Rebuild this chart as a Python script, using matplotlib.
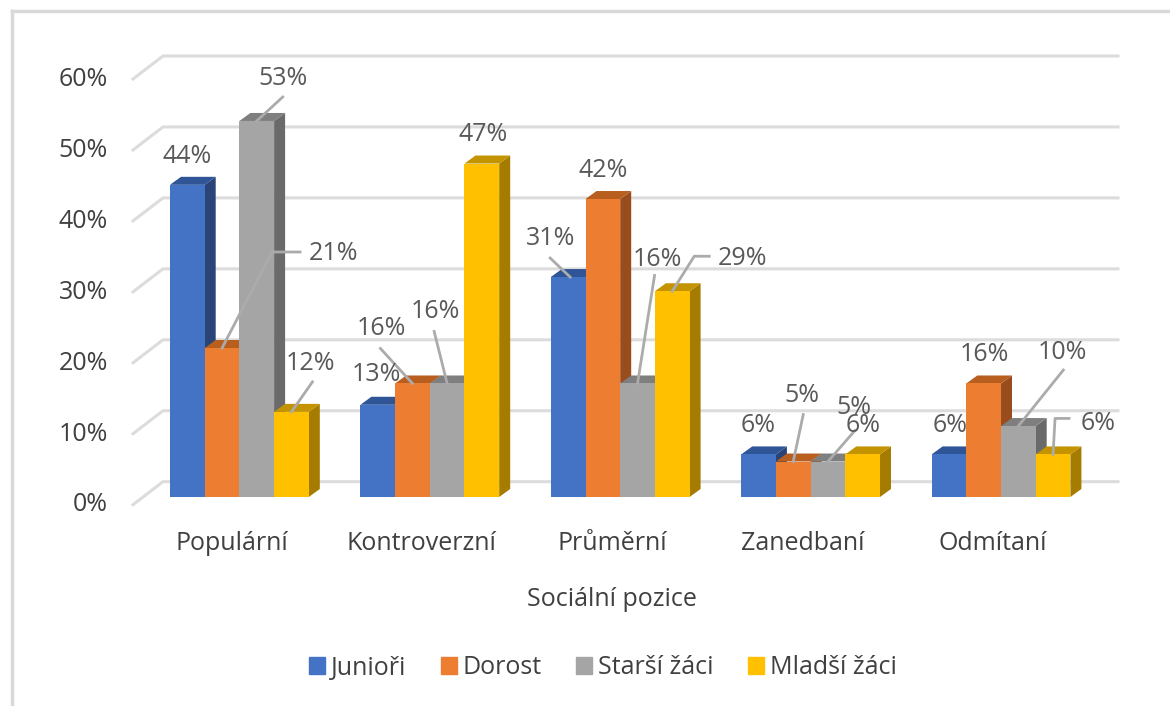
import matplotlib
matplotlib.use("Agg")
import matplotlib.pyplot as plt
from matplotlib.patches import Patch

plt.rcParams['font.family'] = ['Open Sans', 'DejaVu Sans']

kategorie = ["Populární", "Kontroverzní", "Průměrní", "Zanedbaní", "Odmítaní"]
serie = ["Junioři", "Dorost", "Starší žáci", "Mladší žáci"]
junio = [44, 13, 31, 6, 6]
dorost = [21, 16, 42, 5, 16]
starsi = [53, 16, 16, 5, 10]
mladsi = [12, 47, 29, 6, 6]
hodnoty = [junio, dorost, starsi, mladsi]
osa_y = [0, 10, 20, 30, 40, 50, 60]

barvy = ["#4472C4", "#ED7D31", "#A5A5A5", "#FFC000"]
barvy_vrch = ["#2F5597", "#B85F20", "#7F7F7F", "#C49300"]
barvy_bok = ["#2A4478", "#9A4D1C", "#6A6A6A", "#A67C00"]

W, H = 1170, 706
KROK = 190.4   # pixels between groups
PX = 7.095     # pixels per one percent
X0 = 239.4     # pixel x of the first group
Y0 = 497       # pixel y of the floor
SIRKA = 34.7 / KROK
HL_X, HL_Y = 11 / KROK, 8 / PX   # bar depth
VELIKOST = 18

# label shift and leader line from the top of the bar, in pixels (right, up)
popisky = {
    (0, 0): ((0, 28), None),
    (0, 1): ((111, 95), [(0, 0), (50, 96), (78, 96)]),
    (0, 2): ((26, 42), [(0, 0), (26, 24)]),
    (0, 3): ((19, 48), [(0, 0), (21, 30)]),
    (1, 0): ((-1, 30), None),
    (1, 1): ((-31, 55), [(0, 0), (-32, 35)]),
    (1, 2): ((-12, 72), [(0, 0), (-13, 52)]),
    (1, 3): ((1, 29), None),
    (2, 0): ((-18, 39), [(2, 0), (-18, 19)]),
    (2, 1): ((0, 29), None),
    (2, 2): ((20, 124), [(0, 0), (17, 108)]),
    (2, 3): ((70, 33), [(0, 0), (22, 35), (37, 35)]),
    (3, 0): ((0, 29), None),
    (3, 1): ((9, 66), [(0, 0), (10, 47)]),
    (3, 2): ((26, 54), [(0, 0), (27, 31)]),
    (3, 3): ((0, 29), None),
    (4, 0): ((1, 29), None),
    (4, 1): ((1, 29), None),
    (4, 2): ((44, 74), [(0, 0), (45, 56)]),
    (4, 3): ((45, 31), [(0, 0), (2, 36), (16, 36)]),
}

fig = plt.figure(figsize=(W / 100, H / 100), dpi=100)
ax = fig.add_axes([0, 0, 1, 1])
ax.set_xlim(-X0 / KROK, (W - X0) / KROK)
ax.set_ylim((Y0 - H) / PX, Y0 / PX)
ax.axis("off")


def posun(x, y, px, py):
    return x + px / KROK, y + py / PX


# grid on the back wall
for v in osa_y:
    x1, y1 = posun(0, v, 163 - X0, Y0 - 481.7)
    x2, y2 = posun(0, v, 1118 - X0, Y0 - 481.7)
    x3, y3 = posun(0, v, 133 - X0, Y0 - 504.7)
    ax.plot([x3, x1, x2], [y3, y1, y2], color="#DCDCDC", lw=2.2, zorder=1, solid_joinstyle="miter")
    tx, ty = posun(0, v, 108 - X0, Y0 - 505)
    ax.text(tx, ty, f"{v}%", ha="right", va="center", fontsize=VELIKOST, color="#404040")

# bars, left to right so the next front covers the previous side
z = 2
for g in range(len(kategorie)):
    for s in range(len(serie)):
        v = hodnoty[s][g]
        x = g + (s - 1.5) * SIRKA
        l, r = x - SIRKA / 2, x + SIRKA / 2
        ax.fill([r, r + HL_X, r + HL_X, r], [0, HL_Y, v + HL_Y, v], color=barvy_bok[s], lw=0, zorder=z)
        ax.fill([l, l + HL_X, r + HL_X, r], [v, v + HL_Y, v + HL_Y, v], color=barvy_vrch[s], lw=0, zorder=z)
        ax.bar(x, v, SIRKA, color=barvy[s], lw=0, zorder=z + 0.5)
        z += 1

# data labels with leader lines
for (g, s), (posuv, cara) in popisky.items():
    v = hodnoty[s][g]
    x = g + (s - 1.5) * SIRKA
    if cara:
        body = [posun(x, v, *b) for b in cara]
        ax.plot([b[0] for b in body], [b[1] for b in body], color="#ABABAB", lw=2, zorder=100)
    tx, ty = posun(x, v, *posuv)
    ax.text(tx, ty, f"{v}%", ha="center", va="center", fontsize=VELIKOST, color="#595959", zorder=101)

for g, k in enumerate(kategorie):
    tx, ty = posun(g, 0, -8, Y0 - 543)
    ax.text(tx, ty, k, ha="center", va="center", fontsize=VELIKOST, color="#404040")

tx, ty = posun(0, 0, 612 - X0, Y0 - 600)
ax.text(tx, ty, "Sociální pozice", ha="center", va="center", fontsize=VELIKOST, color="#404040")

znacky = [Patch(color=b, label=n) for b, n in zip(barvy, serie)]
ax.legend(handles=znacky, ncol=4, loc="center", bbox_to_anchor=(603 / W, 1 - 668 / H),
          frameon=False, fontsize=VELIKOST, labelcolor="#404040", handlelength=0.64, handleheight=0.64,
          handletextpad=0.25, columnspacing=1.36)

# outer frame of the picture
ax.plot(posun(0, 0, 12 - X0, Y0 - 706)[0:1] * 2, [posun(0, 0, 0, Y0 - 706)[1], posun(0, 0, 0, Y0 - 11)[1]],
        color="#D9D9D9", lw=2.5, zorder=1)
ax.plot([posun(0, 0, 12 - X0, 0)[0], posun(0, 0, W - X0, 0)[0]], [posun(0, 0, 0, Y0 - 11)[1]] * 2,
        color="#D9D9D9", lw=2.5, zorder=1)

fig.savefig("out.png", dpi=100)
